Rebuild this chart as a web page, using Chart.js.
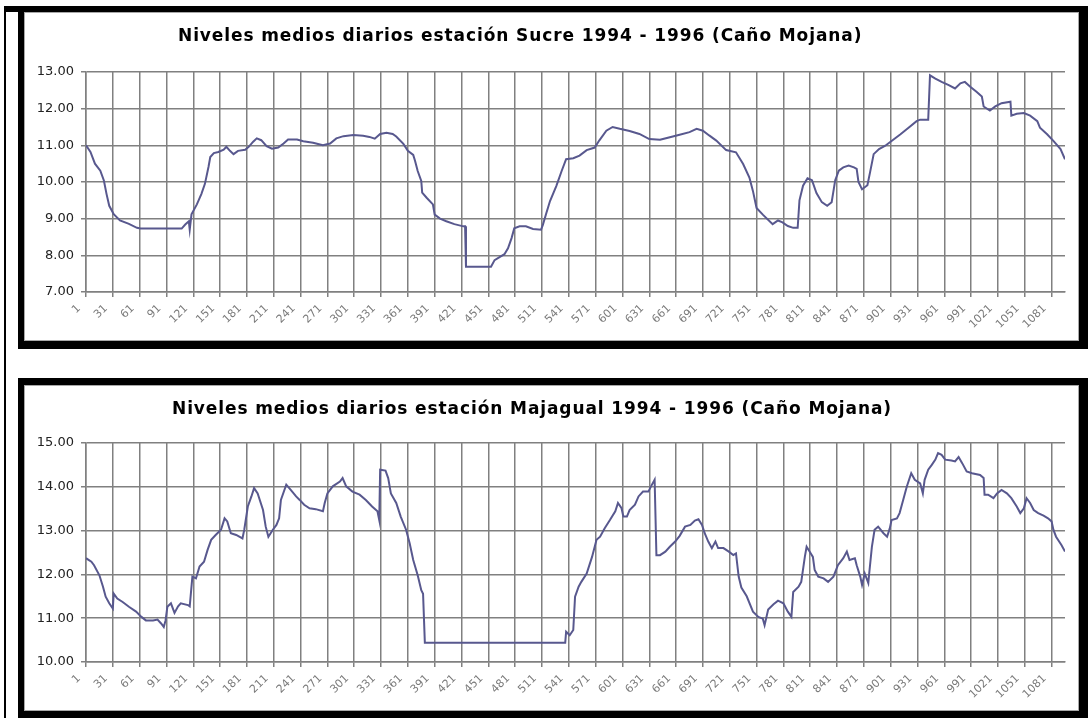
<!DOCTYPE html>
<html>
<head>
<meta charset="utf-8">
<script src="https://cdn.jsdelivr.net/npm/chart.js@4.4.0/dist/chart.umd.min.js"></script>
<style>
body { margin:0; background:#fff; width:1089px; height:718px; overflow:hidden; position:relative; }
.rule { position:absolute; background:#000; }
.box { position:absolute; box-sizing:border-box; border:solid #000; background:#fff; }
.box .inner { position:absolute; left:0; top:0; right:0; bottom:0; border:1px solid #a8a8a8; }
canvas { position:absolute; }
</style>
</head>
<body>
<div class="rule" style="left:4px; top:6px; width:2px; height:712px"></div>
<div class="rule" style="left:4px; top:6px; width:20px; height:6px"></div>
<div class="box" style="left:18px; top:6px; width:1070px; height:343px; border-width:6px 9px 8px 6px"><div class="inner"></div></div>
<div class="box" style="left:18px; top:378px; width:1070px; height:340px; border-width:7px 9px 7px 6px"><div class="inner"></div></div>
<canvas id="sucre" width="1052" height="326" style="left:25px; top:13px"></canvas>
<canvas id="majagual" width="1052" height="322" style="left:25px; top:386px"></canvas>
<script>
/* tick labels */
const dayTicks = [1, 31, 61, 91, 121, 151, 181, 211, 241, 271, 301, 331, 361, 391, 421, 451, 481, 511,
  541, 571, 601, 631, 661, 691, 721, 751, 781, 811, 841, 871, 901, 931, 961, 991, 1021, 1051, 1081];
const sucreTicks = [7, 8, 9, 10, 11, 12, 13];
const majagualTicks = [10, 11, 12, 13, 14, 15];

/* Sucre - daily levels (day number, level) */
const sucreDays = [1, 6, 11, 17, 21, 24, 27, 32, 39, 49, 58, 62, 108, 112, 116, 117, 119, 125, 130, 134,
  138, 140, 144, 149, 155, 158, 162, 166, 171, 179, 183, 188, 192, 197, 203, 209, 216, 222, 227, 237,
  244, 255, 266, 274, 281, 289, 300, 311, 318, 324, 330, 337, 344, 348, 356, 361, 367, 369, 372, 376,
  377, 382, 389, 391, 397, 404, 413, 423, 425, 426, 454, 458, 464, 469, 473, 477, 480, 486, 493, 501,
  510, 512, 516, 520, 527, 533, 538, 546, 553, 561, 570, 575, 583, 590, 598, 609, 620, 631, 643, 654,
  665, 676, 684, 691, 698, 706, 717, 728, 736, 743, 747, 751, 758, 769, 775, 780, 786, 792, 797, 799,
  803, 808, 813, 818, 824, 830, 835, 839, 843, 848, 854, 860, 863, 865, 869, 875, 878, 882, 888, 895,
  902, 912, 921, 930, 934, 943, 945, 951, 958, 966, 973, 979, 984, 990, 997, 1003, 1005, 1012, 1018, 1025,
  1035, 1036, 1042, 1050, 1057, 1065, 1068, 1076, 1083, 1091, 1096];
const sucreLevels = [11.0, 10.82, 10.5, 10.31, 10.04, 9.67, 9.35, 9.12, 8.95, 8.86, 8.75, 8.73, 8.73, 8.84, 8.93, 8.7, 9.12, 9.39, 9.67, 9.95,
  10.41, 10.68, 10.79, 10.82, 10.88, 10.96, 10.85, 10.76, 10.85, 10.88, 10.96, 11.1, 11.19, 11.14, 10.98, 10.91, 10.94, 11.05, 11.16, 11.16,
  11.11, 11.07, 11.0, 11.05, 11.19, 11.25, 11.28, 11.26, 11.23, 11.18, 11.31, 11.34, 11.31, 11.24, 11.04, 10.85, 10.74, 10.58, 10.3, 10.03,
  9.71, 9.57, 9.39, 9.11, 9.0, 8.93, 8.85, 8.79, 8.79, 7.69, 7.69, 7.87, 7.96, 8.03, 8.19, 8.47, 8.74, 8.79, 8.79, 8.72,
  8.7, 8.83, 9.16, 9.48, 9.89, 10.3, 10.62, 10.65, 10.72, 10.87, 10.94, 11.13, 11.4, 11.5, 11.45, 11.39, 11.31, 11.17, 11.15, 11.22,
  11.29, 11.36, 11.45, 11.4, 11.27, 11.13, 10.87, 10.81, 10.49, 10.12, 9.75, 9.29, 9.11, 8.85, 8.95, 8.9, 8.8, 8.75, 8.75, 9.5,
  9.9, 10.1, 10.05, 9.7, 9.45, 9.35, 9.45, 10.05, 10.31, 10.4, 10.45, 10.4, 10.36, 10.0, 9.8, 9.91, 10.27, 10.76, 10.9, 10.99,
  11.12, 11.3, 11.48, 11.66, 11.7, 11.7, 12.91, 12.82, 12.73, 12.64, 12.55, 12.69, 12.73, 12.6, 12.46, 12.33, 12.06, 11.95, 12.06, 12.15,
  12.19, 11.81, 11.86, 11.88, 11.81, 11.66, 11.48, 11.3, 11.12, 10.9, 10.62];

/* Majagual */
const majagualDays = [1, 7, 10, 16, 20, 23, 27, 31, 32, 36, 42, 49, 57, 63, 68, 76, 81, 85, 88, 90,
  92, 96, 100, 104, 107, 115, 117, 120, 124, 128, 133, 137, 141, 146, 152, 156, 159, 163, 169, 176,
  178, 182, 186, 189, 193, 199, 202, 205, 210, 214, 217, 219, 225, 230, 236, 240, 245, 251, 258, 266,
  268, 271, 277, 285, 288, 292, 299, 307, 314, 321, 327, 329, 330, 336, 339, 342, 348, 353, 359, 363,
  367, 372, 376, 378, 380, 537, 538, 542, 546, 548, 552, 555, 561, 567, 572, 576, 581, 587, 593, 596,
  600, 602, 606, 609, 615, 619, 624, 630, 634, 637, 639, 643, 649, 654, 660, 665, 671, 677, 682, 686,
  690, 693, 697, 701, 705, 708, 714, 720, 725, 728, 731, 734, 740, 747, 753, 758, 760, 764, 770, 775,
  781, 786, 790, 792, 798, 801, 805, 807, 811, 814, 816, 820, 826, 831, 837, 842, 848, 852, 855, 861,
  863, 867, 869, 872, 876, 877, 880, 883, 887, 893, 897, 900, 902, 908, 911, 915, 919, 924, 928, 934,
  937, 939, 943, 947, 951, 954, 958, 962, 969, 973, 977, 981, 986, 992, 1001, 1005, 1006, 1010, 1016, 1020,
  1025, 1031, 1036, 1042, 1046, 1050, 1053, 1057, 1061, 1066, 1072, 1077, 1081, 1083, 1086, 1092, 1096];
const majagualLevels = [12.37, 12.29, 12.21, 11.98, 11.72, 11.49, 11.34, 11.22, 11.56, 11.45, 11.37, 11.26, 11.15, 11.03, 10.95, 10.95, 10.97, 10.88, 10.8, 10.95,
  11.26, 11.34, 11.12, 11.27, 11.34, 11.3, 11.27, 11.95, 11.91, 12.18, 12.29, 12.56, 12.79, 12.9, 13.02, 13.28, 13.21, 12.94, 12.9, 12.82,
  13.02, 13.55, 13.78, 13.97, 13.85, 13.47, 13.09, 12.86, 13.02, 13.13, 13.28, 13.7, 14.05, 13.93, 13.78, 13.7, 13.59, 13.51, 13.49, 13.44,
  13.63, 13.85, 14.01, 14.12, 14.2, 14.01, 13.89, 13.82, 13.7, 13.55, 13.44, 13.24, 14.39, 14.37, 14.2, 13.85, 13.63, 13.32, 13.02, 12.71,
  12.33, 11.98, 11.64, 11.56, 10.44, 10.44, 10.69, 10.61, 10.73, 11.49, 11.72, 11.83, 12.02, 12.4, 12.79, 12.86, 13.05, 13.24, 13.44, 13.63,
  13.51, 13.32, 13.32, 13.47, 13.59, 13.78, 13.89, 13.89, 14.05, 14.16, 12.44, 12.44, 12.52, 12.63, 12.75, 12.88, 13.09, 13.13, 13.23, 13.26,
  13.13, 12.94, 12.75, 12.6, 12.75, 12.6, 12.6, 12.52, 12.44, 12.48, 11.95, 11.7, 11.5, 11.15, 11.03, 10.99, 10.84, 11.2, 11.32, 11.4,
  11.34, 11.15, 11.03, 11.6, 11.72, 11.83, 12.4, 12.63, 12.5, 12.4, 12.1, 11.95, 11.91, 11.83, 11.95, 12.21, 12.37, 12.52, 12.33, 12.37,
  12.21, 11.95, 11.76, 12.02, 11.8, 12.02, 12.63, 13.02, 13.09, 12.94, 12.86, 13.05, 13.24, 13.28, 13.4, 13.7, 14.0, 14.31, 14.16, 14.08,
  13.85, 14.16, 14.39, 14.5, 14.62, 14.77, 14.73, 14.62, 14.6, 14.58, 14.68, 14.54, 14.35, 14.31, 14.27, 14.2, 13.82, 13.82, 13.74, 13.85,
  13.93, 13.85, 13.74, 13.55, 13.4, 13.51, 13.74, 13.63, 13.47, 13.4, 13.34, 13.28, 13.21, 13.02, 12.86, 12.67, 12.52];

Chart.defaults.font.family = '"DejaVu Sans", sans-serif';

const gridColor = '#808080';

// title drawn at a fixed spot, the excel titles are not centred
const titleAt = {
  id: 'titleAt',
  afterDraw(chart, args, opts) {
    const ctx = chart.ctx;
    ctx.save();
    ctx.font = 'bold 17px "DejaVu Sans"';
    ctx.letterSpacing = '0.9px';
    ctx.fillStyle = '#000';
    ctx.textAlign = 'left';
    ctx.textBaseline = 'middle';
    ctx.fillText(opts.text, opts.x, opts.y);
    ctx.restore();
  }
};

function makeChart(id, title, titleX, days, levels, yTicks, padTop, axisH) {
  const ctx = document.getElementById(id).getContext('2d');
  return new Chart(ctx, {
    type: 'line',
    data: {
      datasets: [{
        data: days.map((d, i) => ({ x: d, y: levels[i] })),
        borderColor: '#58588e',
        borderWidth: 2,
        pointRadius: 0,
        tension: 0,
        fill: false
      }]
    },
    options: {
      responsive: false,
      animation: false,
      layout: { padding: { top: padTop, right: 12, left: 0, bottom: 0 } },
      plugins: {
        legend: { display: false },
        tooltip: { enabled: false },
        titleAt: { text: title, x: titleX, y: 24 }
      },
      scales: {
        x: {
          type: 'linear',
          min: 1,
          max: 1096,
          afterBuildTicks: s => { s.ticks = dayTicks.map(v => ({ value: v })); },
          afterFit: s => { s.height = axisH; },
          grid: { color: gridColor, lineWidth: 1.5, tickLength: 5 },
          border: { color: gridColor, width: 1.5 },
          ticks: {
            autoSkip: false,
            minRotation: 45,
            maxRotation: 45,
            color: '#7a7a7a',
            font: { size: 11 },
            padding: 5,
            labelOffset: -7,
            callback: v => String(v)
          }
        },
        y: {
          min: yTicks[0],
          max: yTicks[yTicks.length - 1],
          afterBuildTicks: s => { s.ticks = yTicks.map(v => ({ value: v })); },
          afterFit: s => { s.width = 61; },
          grid: { color: gridColor, lineWidth: 1.5, tickLength: 5 },
          border: { color: gridColor, width: 1.5 },
          ticks: { color: '#222', font: { size: 13 }, padding: 7, callback: v => v.toFixed(2) }
        }
      }
    },
    plugins: [titleAt]
  });
}

makeChart('sucre', 'Niveles medios diarios estación Sucre 1994 - 1996 (Caño Mojana)', 153,
  sucreDays, sucreLevels, sucreTicks, 59, 47);
makeChart('majagual', 'Niveles medios diarios estación Majagual 1994 - 1996 (Caño Mojana)', 147,
  majagualDays, majagualLevels, majagualTicks, 57, 46);
</script>
</body>
</html>
